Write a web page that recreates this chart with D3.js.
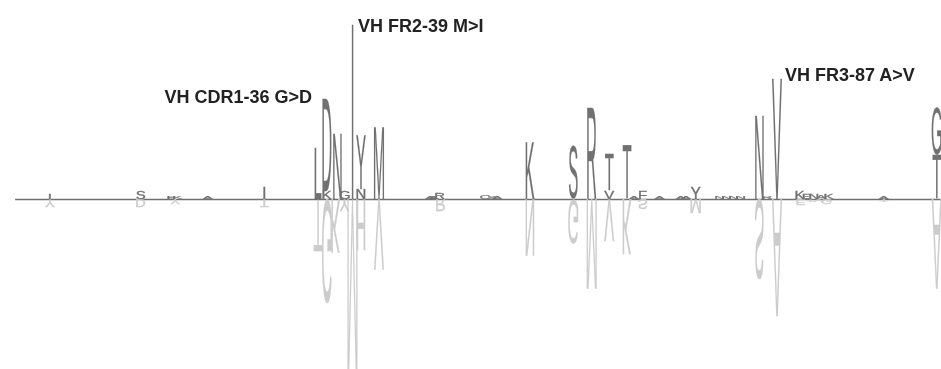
<!DOCTYPE html>
<html>
<head>
<meta charset="utf-8">
<script src="https://cdn.jsdelivr.net/npm/d3@7"></script>
<style>
  html, body { margin: 0; padding: 0; background: #fff; }
  svg { display: block; }
  .logo { opacity: 0.99; will-change: transform; }
</style>
</head>
<body>
<svg id="chart"></svg>
<script>
// Sites (sequence position), letters stacked from the axis outwards, heights in bits
const aboveSites = [4.6, 14.9, 18.4, 19.1, 22.5, 28.9, 35.0, 36.0, 37.2, 38.0, 38.9, 39.85, 41.9,
  47.7, 48.1, 48.8, 53.9, 54.7, 55.3, 59.0, 63.9, 66.0, 68.0, 70.0, 70.8, 71.8, 73.7, 76.1, 76.7,
  77.8, 80.5, 81.3, 82.1, 82.9, 85.0, 85.9, 87.0, 89.6, 90.4, 91.2, 92.0, 92.9, 99.1, 105.1];
const aboveLetters = ["I", "S", "E", "K", "A", "I", "L", "KD", "N", "G", "I", "NY", "M",
  "A", "A", "R", "C", "S", "A", "K", "S", "R", "VT", "T", "A", "F", "A", "A", "A",
  "Y", "N", "N", "N", "N", "N", "R", "V", "K", "E", "N", "A", "K", "A", "TG"];
const aboveHeights = [[0.06], [0.09], [0.03], [0.03], [0.02], [0.12], [0.57], [0.09, 1.02], [0.72], [0.09], [1.93], [0.11, 0.59], [0.80],
  [0.02], [0.03], [0.07], [0.04], [0.03], [0.03], [0.62], [0.59], [1.02], [0.09, 0.40], [0.59], [0.02], [0.09], [0.03], [0.03], [0.03],
  [0.12], [0.03], [0.03], [0.03], [0.03], [0.93], [0.03], [1.34], [0.09], [0.06], [0.06], [0.04], [0.06], [0.03], [0.49, 0.52]];

const belowSites = [4.6, 14.9, 18.8, 28.9, 35.0, 36.0, 37.0, 38.0, 38.9, 39.85, 41.9, 48.9,
  59.0, 63.9, 66.0, 68.0, 70.0, 71.8, 77.8, 85.0, 87.0, 89.7, 90.8, 91.7, 92.6, 99.1, 105.1];
const belowLetters = ["Y", "D", "Y", "T", "T", "G", "K", "Y", "M", "H", "V", "R",
  "N", "G", "M", "V", "K", "S", "M", "S", "A", "E", "T", "V", "G", "T", "A"];
const belowHeights = [[0.09], [0.09], [0.06], [0.09], [0.58], [1.16], [0.60], [0.13], [1.90], [0.57], [0.78], [0.13],
  [0.62], [0.50], [1.00], [0.47], [0.61], [0.11], [0.16], [0.91], [1.31], [0.07], [0.03], [0.03], [0.06], [0.03], [1.00]];

const annotationLabels = ["VH CDR1-36 G>D", "VH FR2-39 M>I", "VH FR3-87 A>V"];
const annotationSites = [36.0, 38.9, 87.0];

const width = 941, height = 369;
const glyphFont = "Liberation Sans, Arial, sans-serif";
const glyphSize = 100;   // measured/rendered large to avoid hinting
const glyphScaleX = 0.15; // horizontal squeeze of the letters
const darkColor = "#707070";
const lightColor = "#cccccc";

const svg = d3.select("#chart").attr("width", width).attr("height", height);

// Scales
const x = d3.scaleLinear().domain([36, 87]).range([327, 777]);
const y = d3.scaleLinear().domain([-2, 2]).range([379, 19]);

// Glyph ink metrics from canvas
const ctx = document.createElement("canvas").getContext("2d");
ctx.font = `${glyphSize}px ${glyphFont}`;
const metricCache = {};
const metrics = (ch) => {
  if (!metricCache[ch]) {
    const m = ctx.measureText(ch);
    metricCache[ch] = {
      left: m.actualBoundingBoxLeft,
      right: m.actualBoundingBoxRight,
      ascent: m.actualBoundingBoxAscent,
      descent: m.actualBoundingBoxDescent,
    };
  }
  return metricCache[ch];
};

// Axis line (no ticks)
svg.append("g")
  .attr("class", "x-axis")
  .attr("transform", `translate(0,${y(0)})`)
  .call(d3.axisBottom(x.copy().domain([0.6, 106]).range([x(0.6), x(106)])).ticks(0).tickSizeOuter(0))
  .select(".domain")
  .attr("stroke", "#707070")
  .attr("stroke-width", 1.5);

const logo = svg.append("g").attr("class", "logo");

// dir = 1 stacks upwards, dir = -1 stacks downwards with flipped letters
const drawStack = (site, letters, heights, dir, color) => {
  let acc = 0;
  letters.split("").forEach((ch, i) => {
    const h = heights[i];
    const y0 = y(dir * acc);
    const y1 = y(dir * (acc + h));
    acc += h;
    const px = Math.abs(y1 - y0);
    const m = metrics(ch);
    const sy = px / (m.ascent + m.descent);
    const tx = x(site) - glyphScaleX * (m.right - m.left) / 2;
    const ty = dir > 0 ? y0 - m.descent * sy : y0 + m.descent * sy;
    logo.append("text")
      .attr("transform", `translate(${tx},${ty}) scale(${glyphScaleX},${dir * sy})`)
      .attr("font-family", glyphFont)
      .attr("font-size", glyphSize)
      .attr("fill", color)
      .attr("stroke", color)
      .attr("stroke-width", 0.4)
      .attr("vector-effect", "non-scaling-stroke")
      .text(ch);
  });
};

belowSites.forEach((s, i) => drawStack(s, belowLetters[i], belowHeights[i], -1, lightColor));
aboveSites.forEach((s, i) => drawStack(s, aboveLetters[i], aboveHeights[i], 1, darkColor));

// Annotations
const stackTop = (site) => {
  const i = aboveSites.indexOf(site);
  return d3.sum(aboveHeights[i]);
};
const labelLayout = [
  { dx: -15, dy: 4, anchor: "end" },
  { dx: 5.5, dy: 7, anchor: "start" },
  { dx: 8, dy: 3, anchor: "start" },
];

svg.append("g")
  .attr("class", "annotations")
  .selectAll("text")
  .data(annotationLabels)
  .enter()
  .append("text")
  .attr("x", (d, i) => x(annotationSites[i]) + labelLayout[i].dx)
  .attr("y", (d, i) => y(stackTop(annotationSites[i])) + labelLayout[i].dy)
  .attr("text-anchor", (d, i) => labelLayout[i].anchor)
  .attr("font-family", "Liberation Sans, Arial, sans-serif")
  .attr("font-weight", "bold")
  .attr("font-size", 18)
  .attr("fill", "#222")
  .text((d) => d);
</script>
</body>
</html>
